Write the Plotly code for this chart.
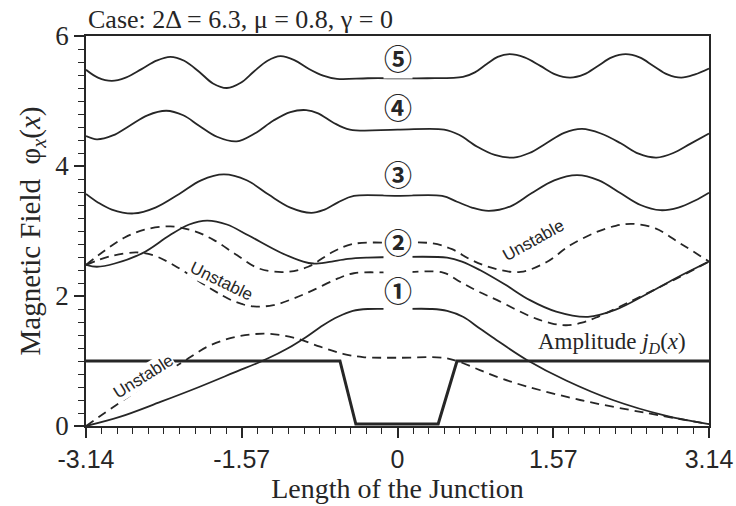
import numpy as np
import plotly.graph_objects as go

# ---- curve data: phi_x(x) along the junction ----
x5 = [-3.14, -3.02, -2.88, -2.74, -2.58, -2.43, -2.29, -2.15, -2.0, -1.86, -1.72, -1.58, -1.45, -1.31, -1.18, -1.04, -0.9, -0.75, -0.61, -0.3, 0.0, 0.3, 0.66, 0.78, 0.9, 1.01, 1.13, 1.28, 1.44, 1.59, 1.74, 1.88, 2.02, 2.16, 2.30, 2.44, 2.58, 2.72, 2.86, 3.0, 3.14]
y5 = [5.48, 5.36, 5.31, 5.36, 5.49, 5.62, 5.68, 5.62, 5.45, 5.27, 5.20, 5.28, 5.45, 5.62, 5.69, 5.63, 5.50, 5.39, 5.34, 5.35, 5.35, 5.35, 5.37, 5.44, 5.57, 5.68, 5.72, 5.67, 5.54, 5.41, 5.36, 5.41, 5.54, 5.67, 5.72, 5.67, 5.54, 5.41, 5.36, 5.41, 5.50]

x4 = [-3.14, -3.03, -2.87, -2.7, -2.52, -2.33, -2.16, -2.0, -1.82, -1.62, -1.44, -1.25, -1.08, -0.92, -0.8, -0.65, -0.48, 0.0, 0.47, 0.62, 0.8, 0.98, 1.17, 1.33, 1.5, 1.68, 1.86, 2.05, 2.25, 2.43, 2.61, 2.78, 2.95, 3.14]
y4 = [4.46, 4.41, 4.47, 4.62, 4.78, 4.85, 4.78, 4.62, 4.45, 4.38, 4.50, 4.70, 4.83, 4.86, 4.81, 4.67, 4.56, 4.56, 4.56, 4.48, 4.30, 4.17, 4.13, 4.20, 4.35, 4.51, 4.57, 4.50, 4.35, 4.19, 4.13, 4.20, 4.34, 4.50]

x3 = [-3.14, -3.02, -2.88, -2.66, -2.44, -2.2, -1.98, -1.75, -1.52, -1.3, -1.08, -0.87, -0.75, -0.6, -0.44, 0.0, 0.45, 0.6, 0.75, 0.92, 1.14, 1.35, 1.58, 1.81, 2.03, 2.25, 2.45, 2.65, 2.83, 3.0, 3.14]
y3 = [3.57, 3.44, 3.33, 3.27, 3.36, 3.57, 3.78, 3.87, 3.78, 3.56, 3.36, 3.28, 3.32, 3.44, 3.54, 3.54, 3.54, 3.45, 3.36, 3.31, 3.38, 3.58, 3.78, 3.86, 3.78, 3.58, 3.40, 3.32, 3.36, 3.47, 3.59]

x2 = [-3.14, -3.03, -2.85, -2.57, -2.3, -2.1, -1.92, -1.72, -1.5, -1.18, -0.95, -0.85, -0.7, -0.5, -0.3, 0.0, 0.5, 0.65, 0.83, 1.08, 1.33, 1.6, 1.92, 2.2, 2.5, 2.8, 3.14]
y2 = [2.48, 2.45, 2.50, 2.66, 2.93, 3.10, 3.16, 3.10, 2.93, 2.67, 2.53, 2.50, 2.52, 2.57, 2.59, 2.60, 2.59, 2.53, 2.40, 2.18, 1.94, 1.76, 1.68, 1.79, 2.02, 2.27, 2.53]

x2u_hi = [-3.14, -2.95, -2.75, -2.55, -2.29, -2.05, -1.85, -1.62, -1.39, -1.12, -0.9, -0.65, -0.45, 0.0, 0.35, 0.55, 0.75, 0.98, 1.24, 1.5, 1.74, 2.0, 2.2, 2.37, 2.6, 2.85, 3.14]
y2u_hi = [2.48, 2.70, 2.90, 3.02, 3.07, 3.00, 2.86, 2.63, 2.42, 2.37, 2.45, 2.68, 2.80, 2.82, 2.81, 2.72, 2.55, 2.42, 2.37, 2.52, 2.78, 2.98, 3.08, 3.11, 3.04, 2.81, 2.53]

x2u_lo = [-3.14, -2.9, -2.63, -2.45, -2.25, -1.89, -1.65, -1.45, -1.25, -1.05, -0.85, -0.6, -0.44, 0.0, 0.46, 0.63, 0.8, 1.0, 1.35, 1.55, 1.7, 1.86, 2.02, 2.3, 2.7, 3.14]
y2u_lo = [2.48, 2.61, 2.67, 2.62, 2.47, 2.12, 1.92, 1.84, 1.86, 1.96, 2.09, 2.27, 2.35, 2.36, 2.36, 2.22, 2.08, 1.94, 1.68, 1.58, 1.55, 1.59, 1.68, 1.88, 2.18, 2.53]

x1 = [-3.14, -2.8, -2.39, -2.0, -1.65, -1.32, -1.1, -0.92, -0.75, -0.6, -0.45, -0.3, 0.0, 0.35, 0.5, 0.66, 0.83, 1.0, 1.30, 1.7, 2.17, 2.7, 3.14]
y1 = [0.0, 0.14, 0.37, 0.60, 0.82, 1.03, 1.20, 1.37, 1.55, 1.68, 1.77, 1.80, 1.80, 1.80, 1.77, 1.68, 1.50, 1.32, 1.02, 0.70, 0.40, 0.16, 0.03]

x1u = [-3.14, -2.8, -2.5, -2.19, -1.89, -1.6, -1.32, -1.05, -0.78, -0.55, -0.35, 0.0, 0.46, 0.62, 0.83, 1.05, 1.3, 1.84, 2.51, 3.14]
y1u = [0.0, 0.36, 0.67, 0.96, 1.24, 1.38, 1.42, 1.36, 1.22, 1.11, 1.06, 1.05, 1.05, 0.99, 0.86, 0.73, 0.61, 0.40, 0.20, 0.03]

# ---- amplitude of the critical current density j_D(x) ----
xj = [-3.14, -0.58, -0.42, 0.41, 0.60, 3.14]
yj = [1.0, 1.0, 0.03, 0.03, 1.0, 1.0]

# ---- axis ticks ----
xticks = [-3.14, -1.57, 0, 1.57, 3.14]
xtick_labels = ["-3.14", "-1.57", "0", "1.57", "3.14"]
yticks = [0, 2, 4, 6]

INK = "#262626"
SERIF = "Liberation Serif, Times New Roman, serif"
SANS = "Liberation Sans, Arial, sans-serif"
CIRC = "Noto Sans CJK JP, DejaVu Sans, sans-serif"

fig = go.Figure()

def curve(x, y, dash="solid", width=1.8):
    fig.add_trace(go.Scatter(
        x=x, y=y, mode="lines",
        line=dict(color=INK, width=width, dash=dash, shape="spline", smoothing=1.0),
        hoverinfo="skip", showlegend=False))

DASH = "9px,6px"
curve(x5, y5)
curve(x4, y4)
curve(x3, y3)
curve(x2u_hi, y2u_hi, DASH)
curve(x2u_lo, y2u_lo, DASH)
curve(x2, y2)
curve(x1u, y1u, DASH)
curve(x1, y1)
fig.add_trace(go.Scatter(x=xj, y=yj, mode="lines",
                         line=dict(color=INK, width=3),
                         hoverinfo="skip", showlegend=False))

# circled branch numbers
for label, yy in [("⑤", 5.66), ("④", 4.91), ("③", 3.88), ("②", 2.83), ("①", 2.09)]:
    fig.add_annotation(x=0, y=yy, text=f"<b>{label}</b>", showarrow=False,
                       font=dict(family=CIRC, size=28, color=INK),
                       bgcolor="white", borderpad=0)

# "Unstable" tags along the dashed branches
for xx, yy, ang in [(-1.77, 2.23, 26), (1.37, 2.85, -29), (-2.56, 0.76, -32)]:
    fig.add_annotation(x=xx, y=yy, text="Unstable", showarrow=False, textangle=ang,
                       font=dict(family=SANS, size=17, color=INK),
                       bgcolor="white", borderpad=0)

fig.add_annotation(x=2.16, y=1.28, text="Amplitude <i>j</i><sub><i>D</i></sub>(<i>x</i>)",
                   showarrow=False, font=dict(family=SERIF, size=23, color=INK))

fig.add_annotation(xref="paper", yref="paper", x=0, y=1, xanchor="left", yanchor="bottom",
                   yshift=0, text="Case: 2Δ = 6.3, μ = 0.8, γ = 0", showarrow=False,
                   font=dict(family=SERIF, size=26, color=INK))

minor_x = list(np.linspace(-3.14, 3.14, 41))

fig.update_xaxes(
    range=[-3.14, 3.14], tickmode="array", tickvals=xticks, ticktext=xtick_labels,
    ticks="outside", ticklen=10, tickwidth=1.5, tickcolor=INK,
    minor=dict(tickmode="array", tickvals=minor_x, ticks="outside", ticklen=6,
               tickwidth=1.2, tickcolor=INK),
    showline=True, linewidth=1.6, linecolor=INK, mirror=True,
    showgrid=False, zeroline=False,
    tickfont=dict(family=SANS, size=25, color=INK),
    title=dict(text="Length of the Junction", standoff=2,
               font=dict(family=SERIF, size=28, color=INK)),
)
fig.update_yaxes(
    range=[0, 6], tickmode="array", tickvals=yticks,
    ticks="outside", ticklen=10, tickwidth=1.5, tickcolor=INK,
    minor=dict(tickmode="linear", tick0=0, dtick=0.2, ticks="outside", ticklen=6,
               tickwidth=1.2, tickcolor=INK),
    showline=True, linewidth=1.6, linecolor=INK, mirror=True,
    showgrid=False, zeroline=False,
    tickfont=dict(family=SERIF, size=27, color=INK),
    title=dict(text="Magnetic Field  φ<sub><i>x</i></sub>(<i>x</i>)", standoff=6,
               font=dict(family=SERIF, size=29, color=INK)),
)

fig.update_layout(
    width=736, height=506,
    margin=dict(l=86, r=27, t=36, b=80, autoexpand=False),
    paper_bgcolor="white", plot_bgcolor="white",
)

fig.write_html("out.html")
